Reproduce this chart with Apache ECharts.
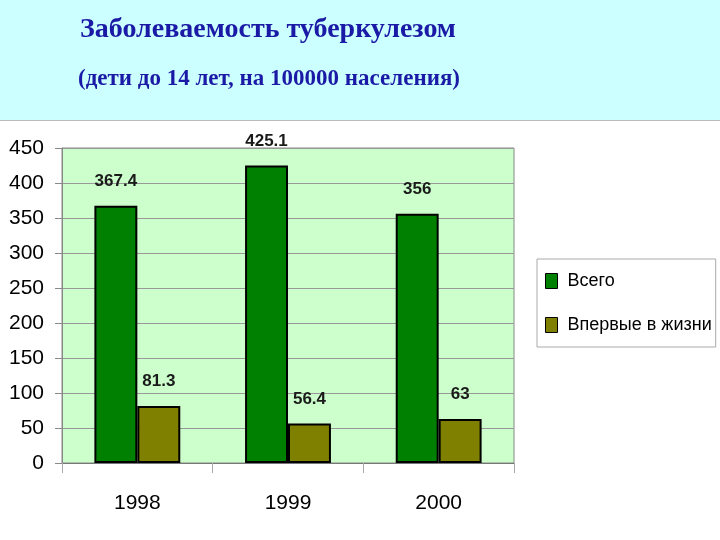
<!DOCTYPE html>
<html>
<head>
<meta charset="utf-8">
<script src="https://cdn.jsdelivr.net/npm/echarts@6/dist/echarts.min.js"></script>
<style>
  html, body { margin: 0; padding: 0; background: #fff; }
  #chart { width: 720px; height: 540px; }
</style>
</head>
<body>
<div id="chart"></div>
<script>
// данные
const years = ['1998', '1999', '2000'];
const totalValues = [367.4, 425.1, 356];
const firstValues = [81.3, 56.4, 63];
const seriesNames = ['Всего', 'Впервые в жизни'];
const yTicks = [0, 50, 100, 150, 200, 250, 300, 350, 400, 450];

const myChart = echarts.init(document.getElementById('chart'));

const labelStyle = {
  show: true,
  position: 'top',
  distance: 16,
  fontFamily: 'Liberation Sans, Arial, sans-serif',
  fontWeight: 'bold',
  fontSize: 17,
  color: '#1a1a1a'
};

let option = {
  animation: false,
  backgroundColor: '#fff',
  graphic: [
    {
      type: 'rect',
      z: -10,
      shape: { x: 0, y: 0, width: 720, height: 120 },
      style: { fill: '#ccffff', stroke: null }
    },
    {
      type: 'line',
      z: -9,
      shape: { x1: 0, y1: 120.5, x2: 720, y2: 120.5 },
      style: { stroke: '#bbbbbb', lineWidth: 1 }
    }
  ],
  title: [
    {
      text: 'Заболеваемость туберкулезом',
      left: 263,
      top: 11,
      textAlign: 'center',
      textStyle: {
        fontFamily: 'Liberation Serif, Times New Roman, serif',
        fontWeight: 'bold',
        fontSize: 28,
        color: '#1a1aa6'
      }
    },
    {
      text: '(дети до 14 лет, на 100000 населения)',
      left: 264,
      top: 63,
      textAlign: 'center',
      textStyle: {
        fontFamily: 'Liberation Serif, Times New Roman, serif',
        fontWeight: 'bold',
        fontSize: 23,
        color: '#1a1aa6'
      }
    }
  ],
  legend: {
    data: seriesNames,
    orient: 'vertical',
    left: 537,
    top: 259,
    padding: [13, 4, 13, 8],
    itemGap: 26,
    itemWidth: 12,
    itemHeight: 15,
    icon: 'rect',
    itemStyle: { borderColor: '#000', borderWidth: 1 },
    borderColor: '#aaaaaa',
    borderWidth: 1,
    textStyle: {
      fontFamily: 'Liberation Sans, Arial, sans-serif',
      fontSize: 18,
      color: '#000',
      padding: [0, 0, 0, 5]
    }
  },
  grid: {
    left: 62,
    right: 206,
    top: 148,
    bottom: 77,
    show: true,
    backgroundColor: '#ccffcc',
    borderColor: '#888888',
    borderWidth: 1
  },
  xAxis: {
    type: 'category',
    data: years,
    axisLine: { lineStyle: { color: '#777777', width: 1 } },
    axisTick: { show: true, length: 10, lineStyle: { color: '#aaaaaa' } },
    axisLabel: {
      margin: 30,
      fontFamily: 'Liberation Sans, Arial, sans-serif',
      fontSize: 21,
      color: '#000'
    }
  },
  yAxis: {
    type: 'value',
    min: yTicks[0],
    max: yTicks[yTicks.length - 1],
    interval: 50,
    axisLine: { show: true, lineStyle: { color: '#888888' } },
    axisTick: { show: true, length: 7, lineStyle: { color: '#888888' } },
    splitLine: { lineStyle: { color: '#999999', width: 1 } },
    axisLabel: {
      margin: 18,
      fontFamily: 'Liberation Sans, Arial, sans-serif',
      fontSize: 21,
      color: '#000'
    }
  },
  series: [
    {
      name: seriesNames[0],
      type: 'bar',
      data: totalValues,
      barGap: '0%',
      barCategoryGap: '43%',
      itemStyle: { color: '#008000', borderColor: '#000', borderWidth: 2 },
      label: labelStyle
    },
    {
      name: seriesNames[1],
      type: 'bar',
      data: firstValues,
      itemStyle: { color: '#808000', borderColor: '#000', borderWidth: 2 },
      label: labelStyle
    }
  ]
};

myChart.setOption(option);
</script>
</body>
</html>
